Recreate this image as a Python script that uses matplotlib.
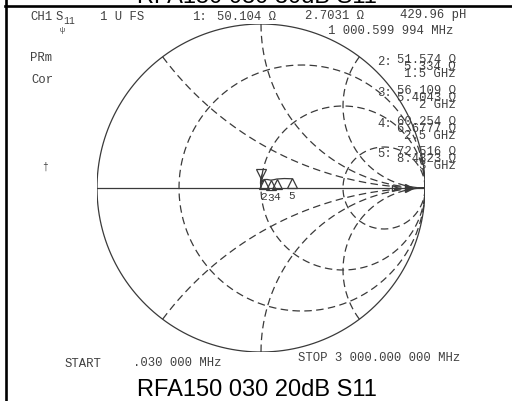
import numpy as np
import matplotlib
matplotlib.use('Agg')
import matplotlib.pyplot as plt
from matplotlib.lines import Line2D
from matplotlib.transforms import ScaledTranslation

# --- data ---
Z0 = 50.0
mk_num = ['1', '2', '3', '4', '5']
mk_r = [50.104, 51.574, 56.109, 60.254, 72.516]      # ohm
mk_x = [2.7031, 5.334, 5.4043, 6.6777, 8.4823]       # ohm
mk_freq = ['1 000.599 994 MHz', '1.5 GHz', '2 GHz', '2.5 GHz', '3 GHz']

# trace (ohm), estimated from the screen, low -> high frequency
tr_r = [50.0, 49.6, 49.5, 49.9, 50.4, 50.2, 50.104, 50.7, 51.574, 53.6, 56.109, 58.0, 60.254, 66.0, 72.516]
tr_x = [0.0, 3.0, 6.0, 8.0, 6.2, 3.6, 2.7031, 4.3, 5.334, 5.6, 5.4043, 5.9, 6.6777, 7.8, 8.4823]

# smith grid as drawn by the instrument
r_circles = [1/3, 1, 3]
x_arcs = [0.5, 1, 2]

W, H = 512, 402
CX, CY, RAD = 261, 189, 164   # chart centre / radius in pixels
ink = '#3a3a3a'
txt = '#404040'


def gamma(r, x):
    z = (np.asarray(r) + 1j * np.asarray(x)) / Z0
    return (z - 1) / (z + 1)


fig = plt.figure(figsize=(W / 100, H / 100), dpi=100)

# smith chart axes, in reflection coefficient units
ax = fig.add_axes([(CX - RAD) / W, (H - CY - RAD) / H, 2 * RAD / W, 2 * RAD / H])
ax.set_xlim(-1, 1)
ax.set_ylim(-1, 1)
ax.axis('off')

dash = (0, (6, 3.5))
t = np.linspace(0, 2 * np.pi, 400)
ax.plot(np.cos(t), np.sin(t), color=ink, lw=0.9)
ax.plot([-1, 1], [0, 0], color=ink, lw=0.9)

for r in r_circles:
    c = r / (1 + r)
    rr = 1 / (1 + r)
    ax.plot(c + rr * np.cos(t), rr * np.sin(t), color=ink, lw=0.9, ls=dash)

rs = np.concatenate([[0], np.logspace(-3, 3, 400)])
for xv in x_arcs:
    for s in (1, -1):
        g = gamma(rs * Z0, s * xv * Z0 * np.ones_like(rs))
        ax.plot(g.real, g.imag, color=ink, lw=0.9, ls=dash)

# trace
g = gamma(tr_r, tr_x)
ax.plot(g.real, g.imag, color=ink, lw=0.9)

# markers: active one drawn above, the others hang below the trace
gm = gamma(mk_r, mk_x)
up = ScaledTranslation(0, 10 / 100, fig.dpi_scale_trans)
ax.plot(gm.real[0], gm.imag[0], marker='v', ms=7, mfc='none', mec=ink, mew=0.9,
        ls='none', transform=ax.transData + up)
down = ScaledTranslation(0, -4.5 / 100, fig.dpi_scale_trans)
for k in range(1, 5):
    ax.plot(gm.real[k], gm.imag[k], marker='^', ms=7, mfc='none', mec=ink, mew=0.9,
            ls='none', transform=ax.transData + down)
    ax.annotate(mk_num[k], (gm.real[k], gm.imag[k]), xytext=(0, -12), textcoords='offset points',
                ha='center', va='center', fontsize=8, color=ink, family='Liberation Mono')

# reference arrows on the axis
ax.plot([0.9], [0], marker='>', ms=6, color=ink, ls='none')
ax.plot([0.82], [0], marker='>', ms=5, mfc='none', mec=ink, ls='none')


def ftext(x, y, s, **kw):
    kw.setdefault('fontsize', 8.8)
    kw.setdefault('color', txt)
    kw.setdefault('family', 'Liberation Mono')
    kw.setdefault('va', 'center')
    fig.text(x / W, 1 - y / H, s, **kw)


# header
ftext(30, 17, 'CH1')
ftext(56, 17, 'S')
ftext(63, 21, '11', fontsize=7)
ftext(60, 30, 'ψ', fontsize=6)
ftext(100, 17, '1 U FS')
ftext(192, 17, '1:')
ftext(217, 17, f'{mk_r[0]} Ω')
ftext(305, 16, f'{mk_x[0]} Ω')
ftext(400, 15, '429.96 pH')
ftext(328, 31, mk_freq[0])
ftext(30, 58, 'PRm')
ftext(31, 80, 'Cor')
ftext(42, 167, '†', fontsize=7)

# marker table on the right
rows = [60, 91, 122, 152]
for k in range(1, 5):
    y0 = rows[k - 1]
    ftext(377, y0 + 2, mk_num[k] + ':')
    ftext(456, y0, f'{mk_r[k]} Ω', ha='right')
    ftext(456, y0 + 7, f'{mk_x[k]} Ω', ha='right')
    ftext(456, y0 + 14, mk_freq[k], ha='right')

# footer
ftext(65, 364, 'START')
ftext(133, 363, '.030 000 MHz')
ftext(298, 358, 'STOP 3 000.000 000 MHz')

# titles (the upper one is cut by the page)
fig.text(257 / W, 1 - 3 / H, 'RFA150 030 30dB S11', ha='center', va='baseline',
         fontsize=17, family='Liberation Sans', color='black')
fig.text(257 / W, 1 - 396 / H, 'RFA150 030 20dB S11', ha='center', va='baseline',
         fontsize=17, family='Liberation Sans', color='black')

# frame of the document table
fig.add_artist(Line2D([6 / W, 6 / W], [0, 1], color='black', lw=1.9))
fig.add_artist(Line2D([5 / W, 1], [1 - 6.5 / H, 1 - 6.5 / H], color='black', lw=1.9))

fig.savefig('out.png', dpi=100, facecolor='white')
